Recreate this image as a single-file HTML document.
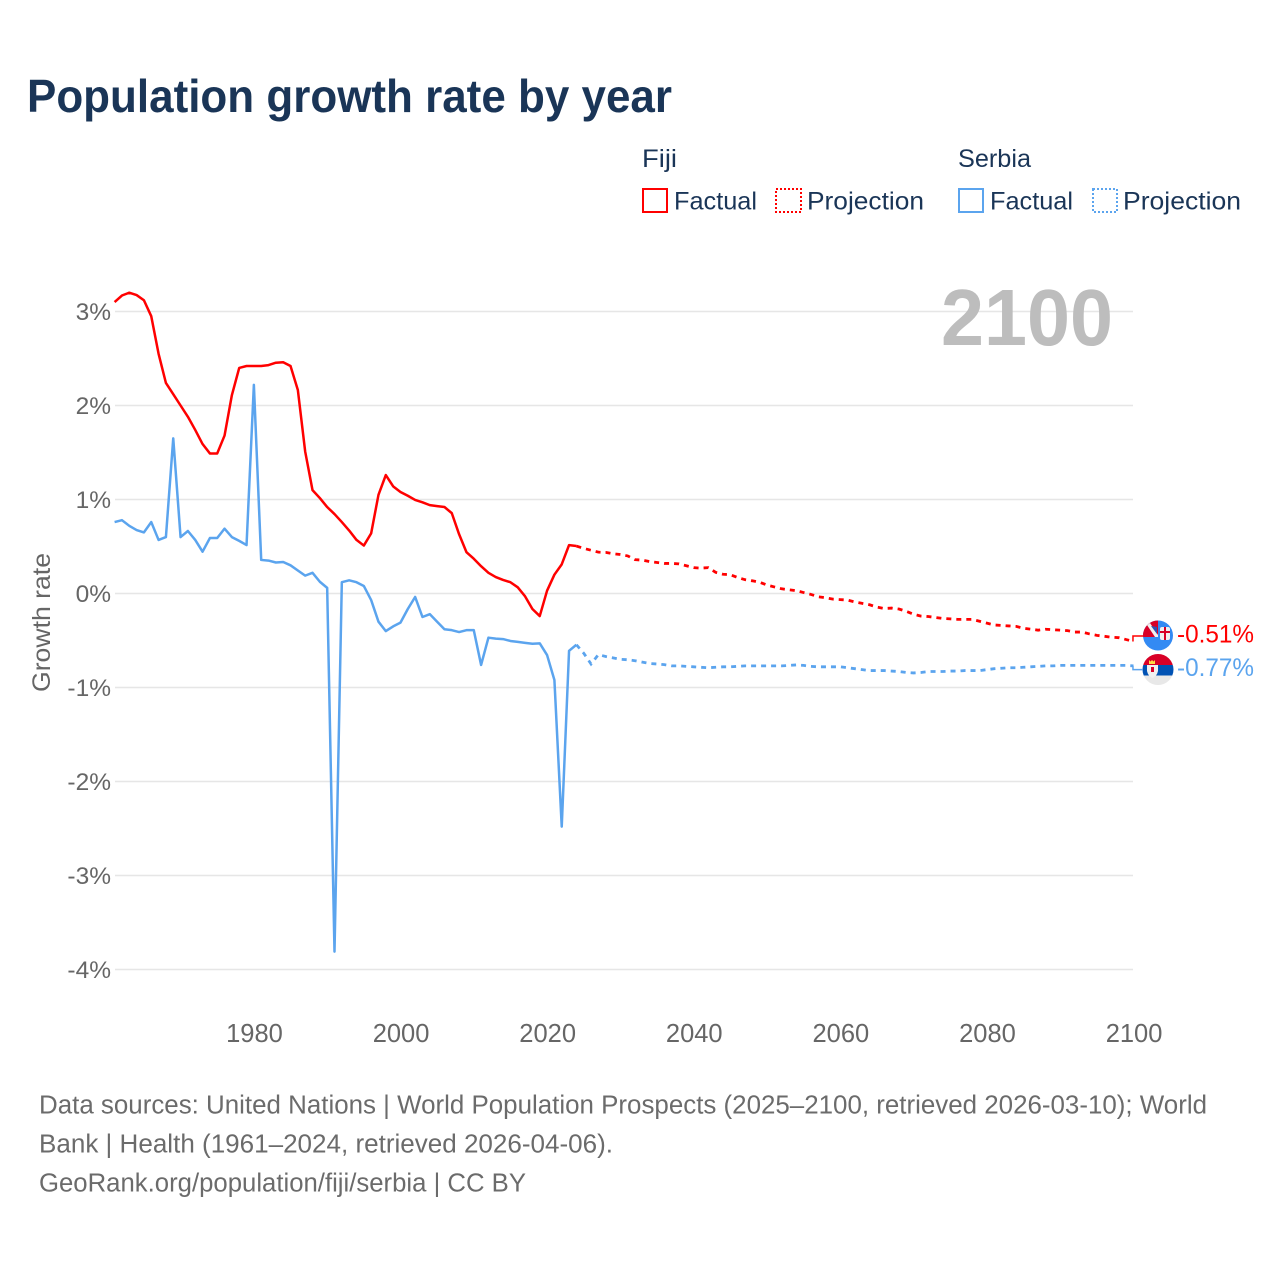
<!DOCTYPE html>
<html lang="en">
<head>
<meta charset="utf-8">
<title>Population growth rate by year</title>
<style>
html,body{margin:0;padding:0;background:#fff}
svg{display:block}
text{font-family:"Liberation Sans",sans-serif}
</style>
</head>
<body>
<svg id="chart" xmlns="http://www.w3.org/2000/svg" width="1280" height="1280" viewBox="0 0 1280 1280">
  <rect width="1280" height="1280" fill="#fff"/>
  <text x="27" y="112" font-size="46" font-weight="700" fill="#1a3557" textLength="645" lengthAdjust="spacingAndGlyphs">Population growth rate by year</text>

  <g font-size="25" fill="#1a3557">
    <text x="642" y="167" textLength="35" lengthAdjust="spacingAndGlyphs">Fiji</text>
    <text x="958" y="167" textLength="73" lengthAdjust="spacingAndGlyphs">Serbia</text>
    <g>
      <rect x="643" y="189" width="24" height="23" fill="none" stroke="#ff0000" stroke-width="2"/>
      <text x="674" y="209.5" textLength="83" lengthAdjust="spacingAndGlyphs">Factual</text>
    </g>
    <g>
      <rect x="776" y="189" width="25" height="23" fill="none" stroke="#ff0000" stroke-width="2" stroke-dasharray="2 2"/>
      <text x="807" y="209.5" textLength="117" lengthAdjust="spacingAndGlyphs">Projection</text>
    </g>
    <g>
      <rect x="959" y="189" width="24" height="23" fill="none" stroke="#5ba4ee" stroke-width="2"/>
      <text x="990" y="209.5" textLength="83" lengthAdjust="spacingAndGlyphs">Factual</text>
    </g>
    <g>
      <rect x="1093" y="189" width="24" height="23" fill="none" stroke="#5ba4ee" stroke-width="2" stroke-dasharray="2 2"/>
      <text x="1123" y="209.5" textLength="118" lengthAdjust="spacingAndGlyphs">Projection</text>
    </g>
  </g>

  <g id="grid"></g>
  <g id="yticks"></g>
  <g id="xticks"></g>

  <text transform="translate(50,692) rotate(-90)" font-size="25" fill="#666" textLength="139" lengthAdjust="spacingAndGlyphs">Growth rate</text>
  <text x="941" y="345" font-size="80" font-weight="700" fill="#bdbdbd" textLength="172" lengthAdjust="spacingAndGlyphs">2100</text>

  <g id="series"></g>

  <defs>
    <clipPath id="clip-fiji"><circle cx="1158" cy="635.5" r="15"/></clipPath>
    <clipPath id="clip-serbia"><circle cx="1158" cy="669.5" r="15.5"/></clipPath>
  </defs>
  <g clip-path="url(#clip-fiji)">
    <rect x="1142" y="619" width="32" height="33" fill="#338af3"/>
    <rect x="1143" y="620" width="15" height="17" fill="#d80027"/>
    <path d="M1147 625 L1150 623 L1158 635 L1158 637 L1155 637 Z" fill="#f0f0f0"/>
    <path d="M1151 626 L1157 634 L1157 627 Z" fill="#2e52b2"/>
    <rect x="1160" y="627" width="10" height="13" rx="2" fill="#f0f0f0"/>
    <rect x="1164" y="627" width="2" height="13" fill="#d80027"/>
    <rect x="1160" y="631" width="10" height="2" fill="#d80027"/>
  </g>
  <g clip-path="url(#clip-serbia)">
    <rect x="1142" y="654" width="32" height="11" fill="#d80027"/>
    <rect x="1142" y="665" width="32" height="10.5" fill="#0052b4"/>
    <rect x="1142" y="675.5" width="32" height="10" fill="#e8e8e8"/>
    <path d="M1149 660 l1.5 1.5 l1.5-1.5 l1.5 1.5 l1.5-1.5 v4 h-6 z" fill="#ffda44"/>
    <path d="M1147 665 h11 v6 q-1 5 -5.500 7 q-4.500 -2 -5.500 -7 z" fill="#f0f0f0"/>
    <rect x="1151" y="667" width="3" height="5" fill="#d80027"/>
  </g>

  <g id="endlabels"></g>

  <g font-size="25.5" fill="#6b6b6b">
    <text x="39" y="1113.500" textLength="1168" lengthAdjust="spacingAndGlyphs">Data sources: United Nations | World Population Prospects (2025–2100, retrieved 2026-03-10); World</text>
    <text x="39" y="1152.500" textLength="574" lengthAdjust="spacingAndGlyphs">Bank | Health (1961–2024, retrieved 2026-04-06).</text>
    <text x="39" y="1191.500" textLength="487" lengthAdjust="spacingAndGlyphs">GeoRank.org/population/fiji/serbia | CC BY</text>
  </g>
</svg>
<script>
const yTickValues = [3, 2, 1, 0, -1, -2, -3, -4];
const xTickValues = [1980, 2000, 2020, 2040, 2060, 2080, 2100];
const firstYear = 1961;
const fijiFactual = [3.10,3.17,3.20,3.175,3.12,2.95,2.55,2.24,2.12,2.0,1.88,1.74,1.59,1.49,1.49,1.68,2.11,2.40,2.42,2.42,2.42,2.43,2.455,2.46,2.42,2.165,1.51,1.10,1.015,0.92,0.845,0.76,0.67,0.57,0.51,0.64,1.05,1.26,1.14,1.08,1.04,0.995,0.97,0.94,0.93,0.92,0.855,0.63,0.44,0.37,0.29,0.22,0.175,0.144,0.12,0.066,-0.03,-0.165,-0.24,0.03,0.20,0.31,0.515,0.505];
const fijiProjection = [0.48,0.46,0.44,0.437,0.423,0.415,0.40,0.36,0.355,0.34,0.33,0.32,0.32,0.315,0.295,0.275,0.27,0.275,0.225,0.205,0.20,0.17,0.147,0.135,0.12,0.09,0.07,0.05,0.04,0.03,0.01,-0.01,-0.035,-0.045,-0.06,-0.065,-0.07,-0.09,-0.105,-0.12,-0.145,-0.16,-0.155,-0.165,-0.19,-0.22,-0.24,-0.245,-0.255,-0.265,-0.27,-0.275,-0.275,-0.275,-0.295,-0.315,-0.335,-0.34,-0.345,-0.35,-0.37,-0.38,-0.39,-0.38,-0.385,-0.39,-0.395,-0.41,-0.41,-0.43,-0.445,-0.455,-0.465,-0.47,-0.49,-0.51];
const serbiaFactual = [0.76,0.78,0.72,0.675,0.65,0.76,0.57,0.60,1.65,0.60,0.665,0.57,0.445,0.59,0.59,0.69,0.60,0.56,0.515,2.22,0.357,0.35,0.33,0.335,0.30,0.245,0.19,0.22,0.125,0.06,-3.81,0.12,0.14,0.12,0.08,-0.07,-0.30,-0.40,-0.35,-0.31,-0.165,-0.037,-0.25,-0.22,-0.30,-0.38,-0.39,-0.41,-0.39,-0.39,-0.76,-0.47,-0.48,-0.485,-0.505,-0.515,-0.525,-0.535,-0.53,-0.655,-0.92,-2.48,-0.61,-0.545];
const serbiaProjection = [-0.635,-0.75,-0.65,-0.67,-0.685,-0.70,-0.705,-0.715,-0.73,-0.745,-0.75,-0.757,-0.77,-0.77,-0.775,-0.78,-0.785,-0.79,-0.785,-0.78,-0.78,-0.775,-0.77,-0.77,-0.77,-0.77,-0.77,-0.77,-0.765,-0.76,-0.765,-0.775,-0.78,-0.78,-0.78,-0.78,-0.79,-0.80,-0.81,-0.82,-0.82,-0.82,-0.825,-0.83,-0.84,-0.845,-0.84,-0.83,-0.83,-0.83,-0.825,-0.825,-0.82,-0.82,-0.82,-0.81,-0.80,-0.795,-0.79,-0.79,-0.785,-0.78,-0.775,-0.77,-0.77,-0.765,-0.765,-0.765,-0.765,-0.765,-0.765,-0.765,-0.765,-0.765,-0.765,-0.77];

const SVGNS = 'http://www.w3.org/2000/svg';
const FIJI_COLOR = '#ff0000';
const SERBIA_COLOR = '#5ba4ee';

function xScale(year) { return 114.6 + (year - 1961) * 7.33; }
function yScale(value) { return 593.5 - value * 94; }

function make(tag, attrs, parent) {
  const el = document.createElementNS(SVGNS, tag);
  for (const key in attrs) el.setAttribute(key, attrs[key]);
  parent.appendChild(el);
  return el;
}
function linePath(values, startYear) {
  return values.map(function (v, i) {
    return (i ? 'L' : 'M') + xScale(startYear + i).toFixed(2) + ' ' + yScale(v).toFixed(2);
  }).join(' ');
}

const gridGroup = document.getElementById('grid');
const yTickGroup = document.getElementById('yticks');
yTickValues.forEach(function (v) {
  const line = make('line', {x1: 115, x2: 1133, y1: yScale(v), y2: yScale(v), stroke: '#e6e6e6', 'stroke-width': 1.5}, gridGroup);
  
  
  const label = make('text', {x: 111, y: yScale(v) + 8.5, 'text-anchor': 'end', 'font-size': 24.5, fill: '#666'}, yTickGroup);
  
  
  label.textContent = v + '%';
});

const xTickGroup = document.getElementById('xticks');
xTickValues.forEach(function (year) {
  const label = make('text', {x: xScale(year) + 0.6, y: 1042, 'text-anchor': 'middle', 'font-size': 25.5, fill: '#666'}, xTickGroup);
  
  
  label.textContent = year;
});

const seriesGroup = document.getElementById('series');
function drawSeries(name, factual, projection, color) {
  const lastFactual = factual[factual.length - 1];
  const projStart = firstYear + factual.length - 1;
  const solid = make('path', {d: linePath(factual, firstYear), fill: 'none', stroke: color, 'stroke-width': 2.5, 'stroke-linejoin': 'round'}, seriesGroup);
  
  
  const dashed = make('path', {d: linePath([lastFactual].concat(projection), projStart), fill: 'none', stroke: color, 'stroke-width': 2.8, 'stroke-dasharray': '5 5'}, seriesGroup);
  
  
}
drawSeries('fiji', fijiFactual, fijiProjection, FIJI_COLOR);
drawSeries('serbia', serbiaFactual, serbiaProjection, SERBIA_COLOR);

const endGroup = document.getElementById('endlabels');
function drawEnd(name, projection, color, labelOffset) {
  const last = projection[projection.length - 1];
  const yEnd = yScale(last);
  const yLabel = yEnd + labelOffset;
  const x = xScale(2100) - 0.5;
  const elbow = make('path', {d: 'M' + x + ' ' + yEnd + ' V' + yLabel + ' H1143', fill: 'none', stroke: color, 'stroke-width': 1.5}, endGroup);
  
  
  const label = make('text', {x: 1177, y: yLabel + 6.5, 'font-size': 25, fill: color, textLength: 77, lengthAdjust: 'spacingAndGlyphs'}, endGroup);
  
  
  label.textContent = last.toFixed(2) + '%';
}
drawEnd('fiji', fijiProjection, FIJI_COLOR, -5.4);
drawEnd('serbia', serbiaProjection, SERBIA_COLOR, 3.8);
</script>
</body>
</html>
